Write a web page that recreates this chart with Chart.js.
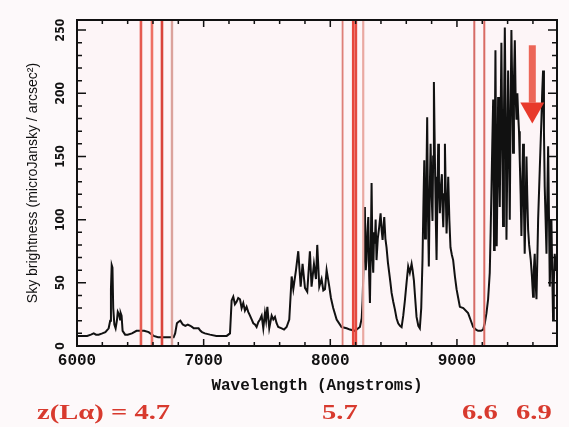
<!DOCTYPE html>
<html lang="en">
<head>
    <meta charset="UTF-8">
    <title>Sky brightness</title>
    <script src="https://cdn.jsdelivr.net/npm/chart.js"></script>
    <style>
        body { margin: 0; background: #fdf9fa; }
        #wrap { position: relative; width: 569px; height: 427px; }
        .z { position: absolute; top: 401px; font: bold 22px 'Liberation Serif', serif; line-height: 22px;
             color: #d83a2e; white-space: nowrap; transform: scaleX(1.3); transform-origin: left top; }
    </style>
</head>
<body>
<div id="wrap">
    <canvas id="sky" width="569" height="427"></canvas>
    <div class="z" style="left:37px">z(L&alpha;) = 4.7</div>
    <div class="z" style="left:322px">5.7</div>
    <div class="z" style="left:462px">6.6</div>
    <div class="z" style="left:516px">6.9</div>
</div>
<script>
// sky spectrum
const wavelength = [
    6000, 6040, 6080, 6110, 6132, 6150, 6171, 6200, 6224, 6250,
    6262, 6268, 6274, 6280, 6286, 6295, 6305, 6315, 6322, 6332,
    6340, 6345, 6352, 6360, 6380, 6400, 6434, 6470, 6500, 6530,
    6566, 6605, 6640, 6684, 6720, 6763, 6775, 6789, 6800, 6816,
    6835, 6855, 6875, 6895, 6910, 6921, 6940, 6960, 6975, 6987,
    7010, 7050, 7100, 7150, 7182, 7208, 7221, 7234, 7247, 7260,
    7273, 7287, 7300, 7313, 7326, 7339, 7352, 7366, 7379, 7392,
    7405, 7418, 7432, 7445, 7458, 7471, 7484, 7493, 7503, 7518,
    7537, 7550, 7563, 7576, 7589, 7616, 7635, 7655, 7676, 7695,
    7708, 7729, 7747, 7766, 7781, 7800, 7818, 7839, 7852, 7871,
    7887, 7897, 7913, 7931, 7945, 7958, 7971, 7992, 8005, 8023,
    8050, 8089, 8129, 8155, 8194, 8234, 8248, 8255, 8264, 8273,
    8280, 8286, 8293, 8300, 8307, 8313, 8320, 8326, 8333, 8339,
    8346, 8352, 8358, 8365, 8375, 8386, 8397, 8405, 8413, 8420,
    8426, 8435, 8444, 8455, 8465, 8475, 8484, 8497, 8510, 8523,
    8536, 8550, 8563, 8576, 8589, 8602, 8615, 8628, 8642, 8650,
    8660, 8670, 8681, 8695, 8707, 8718, 8728, 8735, 8742, 8748,
    8755, 8760, 8765, 8772, 8778, 8785, 8792, 8800, 8807, 8812,
    8818, 8823, 8828, 8834, 8839, 8846, 8852, 8858, 8865, 8872,
    8881, 8886, 8892, 8898, 8905, 8912, 8918, 8925, 8931, 8940,
    8949, 8960, 8970, 8984, 8997, 9010, 9023, 9050, 9088, 9110,
    9128, 9150, 9167, 9190, 9207, 9220, 9233, 9246, 9259, 9266,
    9272, 9279, 9286, 9293, 9298, 9304, 9309, 9314, 9320, 9325,
    9332, 9338, 9345, 9351, 9358, 9364, 9371, 9378, 9385, 9391,
    9398, 9404, 9411, 9417, 9424, 9430, 9437, 9443, 9450, 9457,
    9463, 9470, 9477, 9483, 9490, 9496, 9503, 9509, 9516, 9522,
    9529, 9535, 9542, 9549, 9555, 9562, 9570, 9583, 9592, 9601,
    9607, 9614, 9621, 9628, 9635, 9641, 9654, 9667, 9673, 9680,
    9687, 9693, 9700, 9707, 9714, 9720, 9727, 9733, 9740, 9746,
    9752, 9759, 9765, 9772, 9782
];
const brightness = [
    8, 8, 8, 9, 10, 9, 9, 10, 11, 14,
    20, 45, 64, 62, 30, 17, 14, 20, 27, 25,
    21, 26, 24, 12, 9, 9, 10, 12, 12, 12,
    11, 8, 7, 7, 7, 7, 10, 18, 19, 20,
    17, 16, 17, 16, 15, 14, 14, 14, 12, 11,
    10, 9, 8, 8, 8, 10, 36, 39, 33, 35,
    38, 37, 30, 34, 28, 31, 27, 24, 21, 18,
    17, 15, 19, 21, 24, 14, 26, 20, 31, 14,
    24, 21, 23, 18, 15, 14, 13, 15, 21, 55,
    45, 60, 75, 47, 65, 46, 43, 75, 47, 65,
    53, 80, 47, 53, 44, 45, 60, 47, 38, 30,
    21, 15, 14, 13, 12, 15, 22, 36, 70, 110,
    60, 68, 90, 102, 55, 34, 80, 129, 70, 58,
    90, 81, 100, 68, 85, 94, 105, 92, 84, 95,
    102, 85, 78, 66, 58, 50, 42, 35, 29, 22,
    18, 16, 15, 24, 36, 50, 63, 58, 65, 60,
    52, 38, 23, 16, 14, 30, 68, 110, 147, 85,
    94, 140, 181, 100, 63, 120, 160, 120, 99, 150,
    209, 170, 134, 95, 68, 120, 160, 130, 105, 125,
    136, 110, 94, 120, 160, 120, 89, 110, 134, 100,
    78, 72, 68, 55, 45, 38, 31, 30, 26, 20,
    15, 13, 12, 12, 13, 18, 26, 37, 58, 90,
    121, 160, 195, 76, 150, 234, 150, 79, 130, 197,
    150, 110, 180, 240, 160, 95, 180, 252, 180, 84,
    150, 218, 160, 100, 190, 250, 200, 153, 210, 242,
    200, 179, 200, 184, 170, 147, 120, 87, 130, 160,
    110, 73, 110, 150, 120, 92, 80, 68, 55, 39,
    60, 73, 50, 37, 70, 100, 140, 179, 200, 218,
    170, 126, 100, 73, 120, 158, 100, 47, 80, 100,
    60, 21, 50, 73, 60
];

// red Lyman-alpha markers
const markerWaves = [6505, 6592, 6671, 6750, 8097, 8181, 8202, 8260, 9137, 9216];
const markerColors = ['#e55a50', '#ee7064', '#d9443b', '#dba29c', '#de7f78', '#e8473c', '#e34a40', '#eaa8a2', '#d66b66', '#d96a63'];
const markerWidths = [2.6, 2.6, 2.6, 2.4, 1.8, 2.6, 2.6, 2.2, 2, 2];
const arrowWave = 9595;
const arrowFrom = 238, arrowTo = 176;

const xTicks = [];
for (let v = 6000; v <= 9600; v += 200) xTicks.push(v);
const yTicks = [];
for (let v = 0; v <= 250; v += 10) yTicks.push(v);
const yMax = 258;

const frame = {
    id: 'frame',
    beforeDraw(chart) {
        const {ctx, chartArea: a} = chart;
        ctx.save();
        ctx.fillStyle = '#fdf5f7';
        ctx.fillRect(a.left, a.top, a.width, a.height);
        ctx.restore();
    },
    afterDatasetsDraw(chart) {
        const {ctx, chartArea: a, scales: {x, y}} = chart;
        ctx.save();
        ctx.strokeStyle = '#111';
        ctx.lineWidth = 1.5;
        ctx.beginPath();
        xTicks.forEach(v => {
            const px = x.getPixelForValue(v);
            const len = v % 1000 === 0 ? 7 : 4;
            ctx.moveTo(px, a.bottom); ctx.lineTo(px, a.bottom - len);
            ctx.moveTo(px, a.top); ctx.lineTo(px, a.top + len);
        });
        yTicks.forEach(v => {
            const py = y.getPixelForValue(v);
            const len = v % 50 === 0 ? 9 : 5;
            ctx.moveTo(a.left, py); ctx.lineTo(a.left + len, py);
            ctx.moveTo(a.right, py); ctx.lineTo(a.right - len, py);
        });
        ctx.stroke();
        ctx.lineWidth = 2;
        ctx.strokeRect(a.left, a.top, a.width, a.height);

        // arrow
        const ax = x.getPixelForValue(arrowWave);
        const top = y.getPixelForValue(arrowFrom);
        const tip = y.getPixelForValue(arrowTo);
        const headTop = tip - 21;
        ctx.fillStyle = '#ec6658';
        ctx.fillRect(ax - 3.5, top, 7, headTop - top);
        ctx.fillStyle = '#e8392b';
        ctx.beginPath();
        ctx.moveTo(ax - 12, headTop);
        ctx.lineTo(ax + 12, headTop);
        ctx.lineTo(ax, tip);
        ctx.closePath();
        ctx.fill();
        ctx.restore();
    }
};

const datasets = markerWaves.map((w, i) => ({
    data: [{x: w, y: 0}, {x: w, y: yMax}],
    borderColor: markerColors[i],
    borderWidth: markerWidths[i],
    pointRadius: 0,
    order: 0
}));
datasets.push({
    data: wavelength.map((w, i) => ({x: w, y: brightness[i]})),
    borderColor: '#111',
    borderWidth: 2,
    pointRadius: 0,
    tension: 0,
    order: 1
});

new Chart(document.getElementById('sky'), {
    type: 'line',
    data: { datasets },
    plugins: [frame],
    options: {
        responsive: false,
        animation: false,
        events: [],
        layout: { padding: { left: 20, top: 20, right: 12, bottom: 30 } },
        plugins: { legend: { display: false }, tooltip: { enabled: false } },
        scales: {
            x: {
                type: 'linear',
                min: 6000,
                max: 9790,
                afterBuildTicks: s => { s.ticks = xTicks.map(v => ({value: v})); },
                afterFit: s => { s.height = 51; },
                grid: { display: false, drawTicks: false },
                border: { display: false },
                ticks: {
                    autoSkip: false,
                    maxRotation: 0,
                    padding: 5,
                    color: '#111',
                    font: { family: "'Liberation Mono', monospace", size: 16, weight: 'bold' },
                    callback: v => v % 1000 === 0 ? String(v) : ''
                },
                title: {
                    display: true,
                    text: 'Wavelength (Angstroms)',
                    color: '#111',
                    font: { family: "'Liberation Mono', monospace", size: 16, weight: 'bold' },
                    padding: { top: 0, bottom: 1 }
                }
            },
            y: {
                min: 0,
                max: yMax,
                afterBuildTicks: s => { s.ticks = yTicks.map(v => ({value: v})); },
                afterFit: s => { s.width = 57; },
                grid: { display: false, drawTicks: false },
                border: { display: false },
                ticks: {
                    autoSkip: false,
                    minRotation: 90,
                    maxRotation: 90,
                    crossAlign: 'center',
                    padding: 5,
                    color: '#111',
                    font: { family: "'Liberation Sans Narrow', 'DejaVu Sans Condensed', sans-serif", size: 12, weight: 'bold' },
                    callback: v => v % 50 === 0 ? String(v) : ''
                },
                title: {
                    display: true,
                    text: 'Sky brightness (microJansky / arcsec²)',
                    color: '#111',
                    font: { family: "'Liberation Sans', Arial, sans-serif", size: 14 },
                    padding: { top: 5, bottom: 0 }
                }
            }
        }
    }
});
</script>
</body>
</html>
